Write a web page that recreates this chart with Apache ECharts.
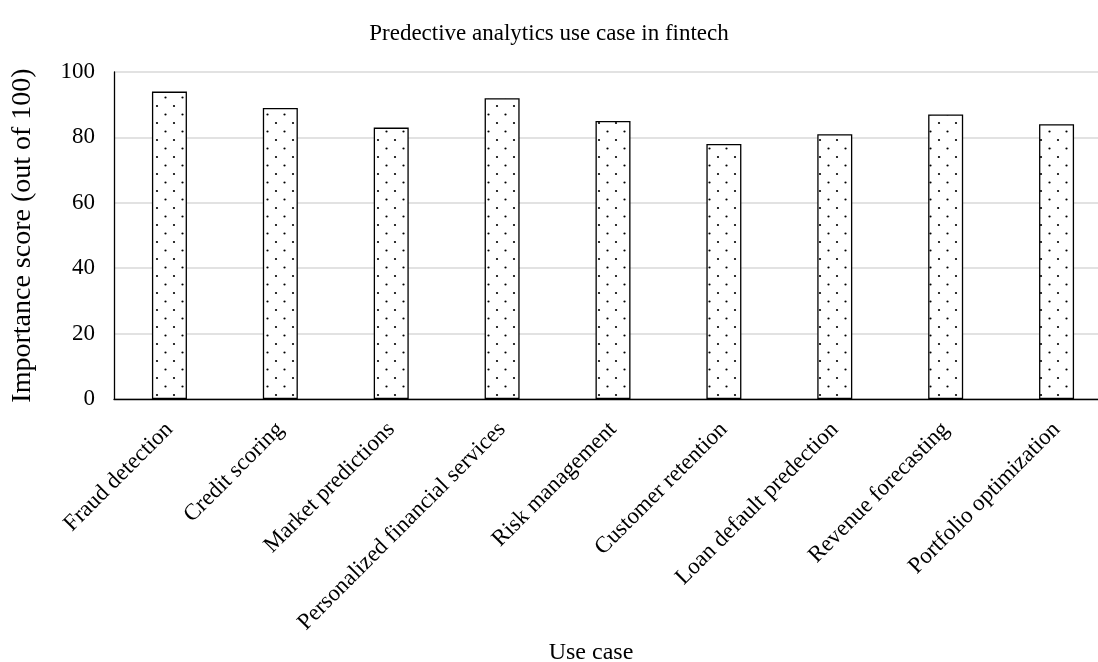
<!DOCTYPE html>
<html>
<head>
<meta charset="utf-8">
<script src="https://cdn.jsdelivr.net/npm/echarts@6/dist/echarts.min.js"></script>
<style>html,body{margin:0;padding:0;background:#fff;overflow:hidden}#c{width:1098px;height:662px}</style>
</head>
<body>
<div id="c"></div>
<script>
const categories = ["Fraud detection","Credit scoring","Market predictions","Personalized financial services","Risk management","Customer retention","Loan default predection","Revenue forecasting","Portfolio optimization"];
const scores = [94, 89, 83, 92, 85, 78, 81, 87, 84];
const yTicks = [0, 20, 40, 60, 80, 100];

function dotPattern() {
  const c = document.createElement('canvas');
  c.width = 17; c.height = 17;
  const g = c.getContext('2d');
  g.fillStyle = '#fff';
  g.fillRect(0, 0, 17, 17);
  g.fillStyle = '#000';
  g.beginPath(); g.arc(4, 4, 1.1, 0, Math.PI * 2); g.fill();
  g.beginPath(); g.arc(12.5, 12.5, 1.1, 0, Math.PI * 2); g.fill();
  return c;
}

const font = '"Liberation Serif", "Times New Roman", serif';
const chart = echarts.init(document.getElementById('c'), null, {renderer: 'canvas', width: 1098, height: 662});
chart.setOption({
  animation: false,
  backgroundColor: '#fff',
  title: {
    text: 'Predective analytics use case in fintech',
    left: 'center', top: 17,
    textStyle: {fontFamily: font, fontSize: 23, fontWeight: 'normal', color: '#000'}
  },
  grid: {left: 114, width: 998, top: 72, height: 327, containLabel: false, outerBoundsMode: 'none'},
  xAxis: {
    type: 'category',
    data: categories,
    name: 'Use case',
    nameLocation: 'middle',
    nameGap: 242,
    nameTextStyle: {fontFamily: font, fontSize: 24, color: '#000', padding: [0, 44, 0, 0]},
    axisLine: {lineStyle: {color: '#000', width: 1.3}},
    axisTick: {show: false},
    axisLabel: {rotate: 45, interval: 0, fontFamily: font, fontSize: 23, color: '#000', margin: 27}
  },
  yAxis: {
    type: 'value',
    min: 0, max: 100, interval: 20,
    name: 'Importance score (out of 100)',
    nameLocation: 'middle',
    nameGap: 77,
    nameTextStyle: {fontFamily: font, fontSize: 28, color: '#000'},
    axisLine: {show: true, lineStyle: {color: '#000', width: 1.3}},
    axisTick: {show: false},
    axisLabel: {fontFamily: font, fontSize: 23, color: '#000', margin: 19,
      formatter: v => yTicks.includes(v) ? String(v) : ''},
    splitLine: {lineStyle: {color: '#d9d9d9', width: 1.5}}
  },
  series: [{
    type: 'bar',
    data: scores,
    barWidth: 35,
    itemStyle: {
      color: {image: dotPattern(), repeat: 'repeat'},
      borderColor: '#000',
      borderWidth: 1.3
    }
  }]
});
</script>
</body>
</html>
